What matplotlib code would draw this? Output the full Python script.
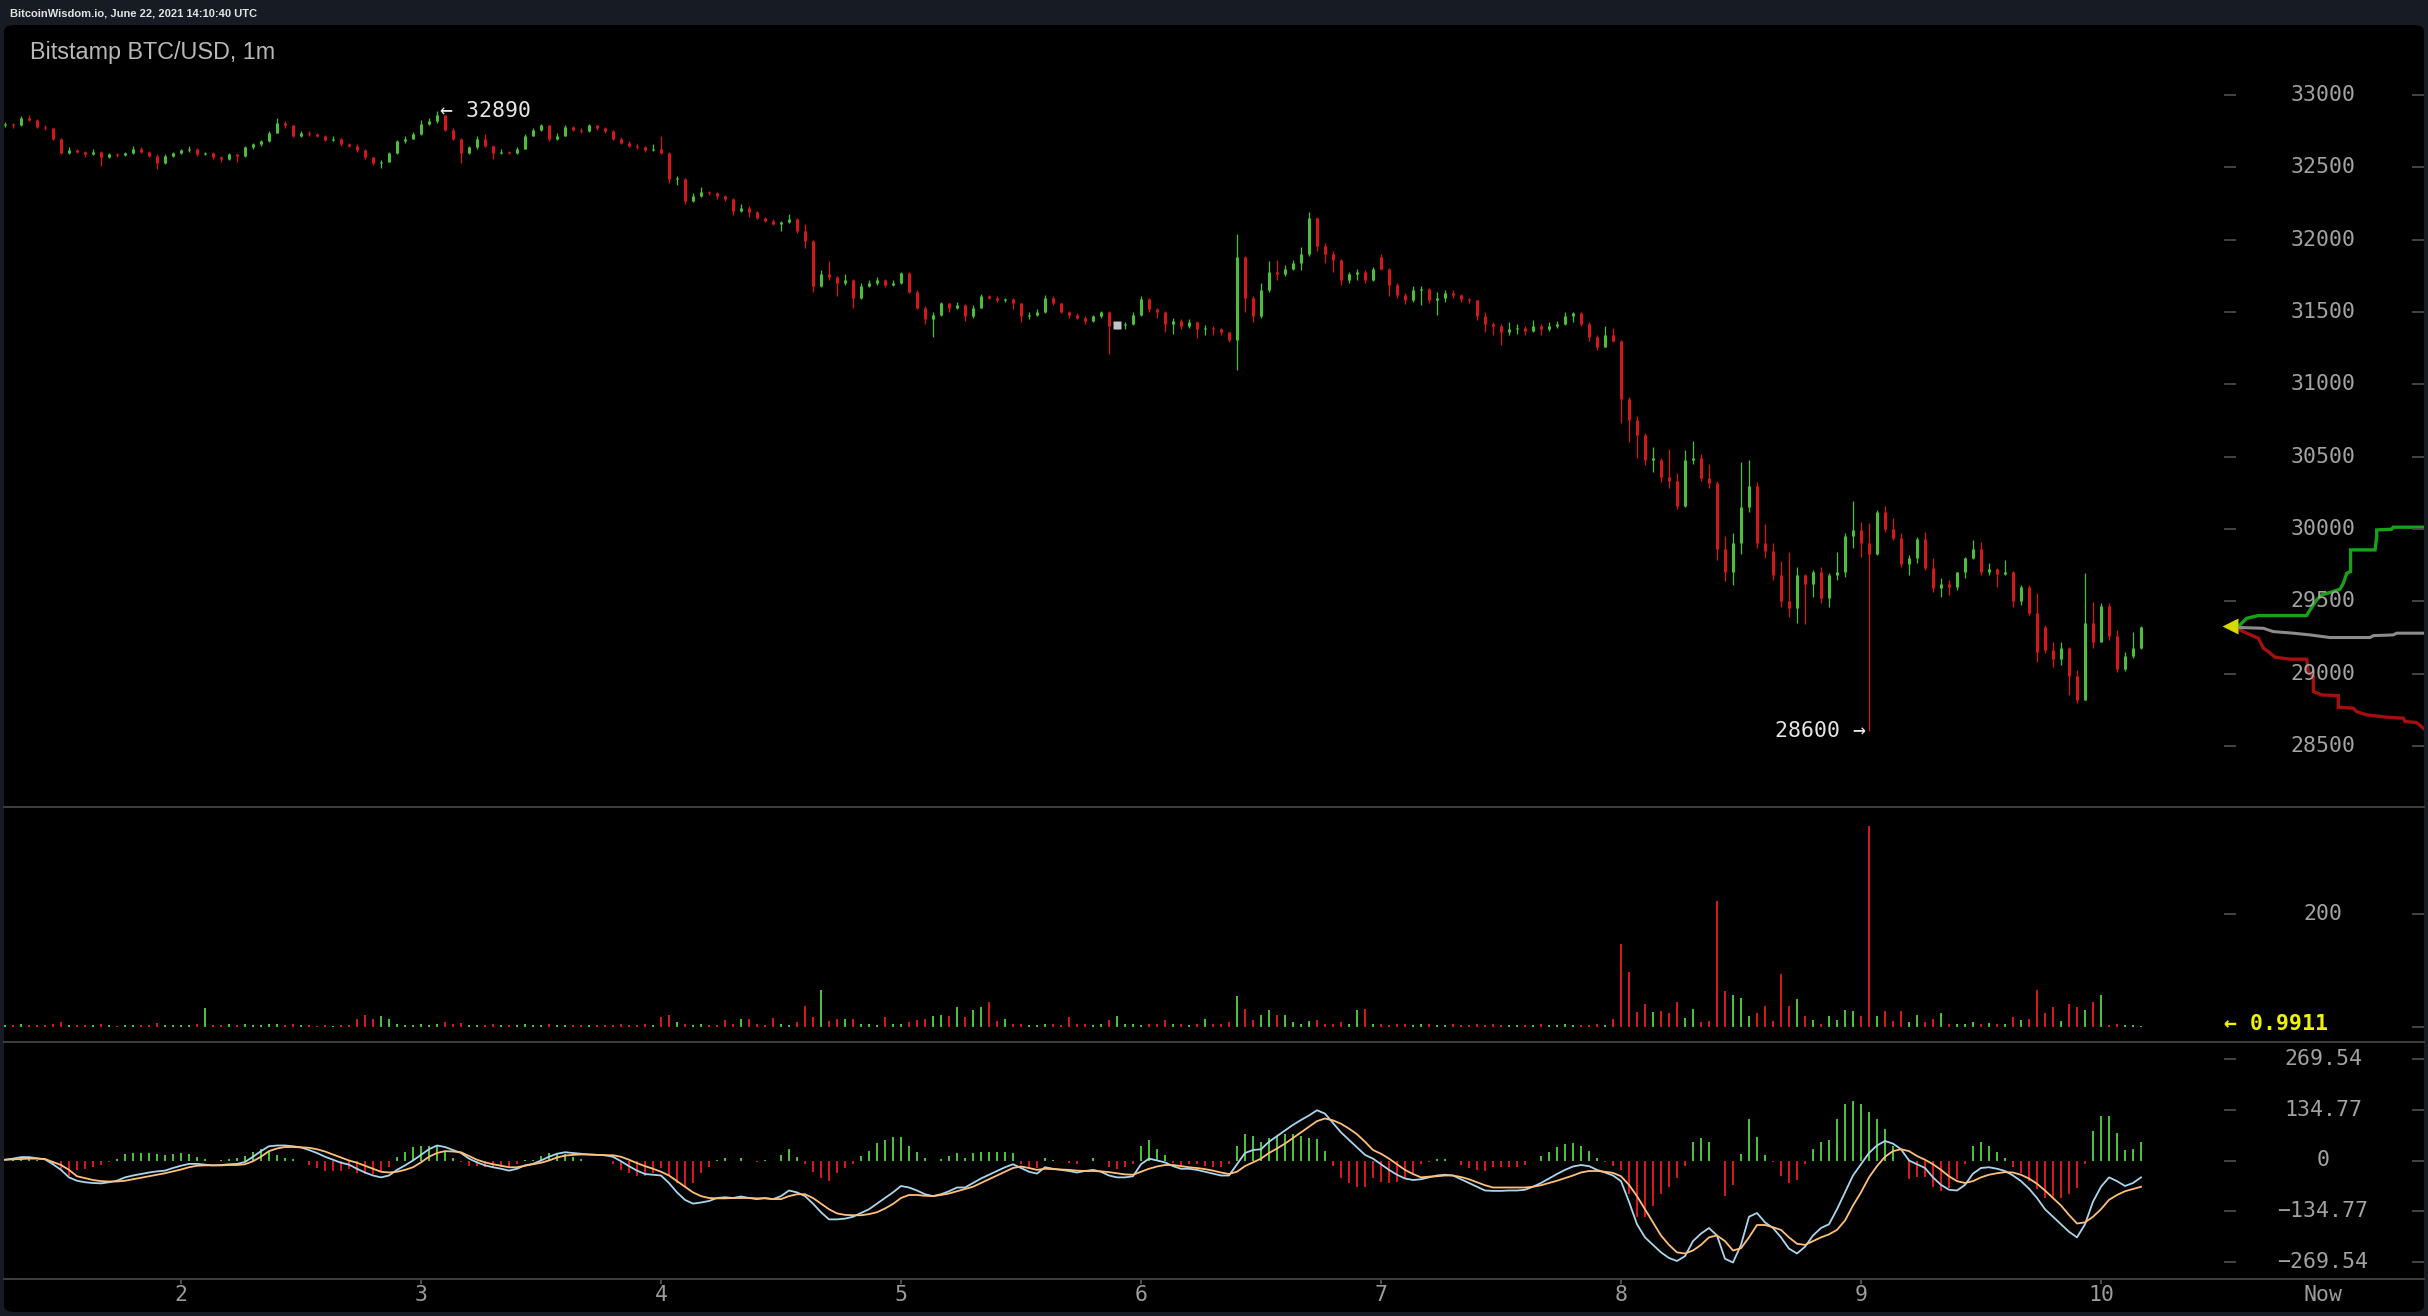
import matplotlib.pyplot as plt
from matplotlib.patches import FancyBboxPatch
import numpy as np

W, H = 2428, 1316

opens = [
    32790, 32800, 32790, 32840, 32830, 32780, 32770, 32700, 32600, 32620,
    32610, 32590, 32610, 32575, 32590, 32585, 32600, 32630, 32610, 32580,
    32530, 32580, 32600, 32620, 32630, 32590, 32600, 32570, 32560, 32590,
    32580, 32640, 32660, 32680, 32740, 32810, 32790, 32720, 32740, 32730,
    32720, 32690, 32700, 32660, 32650, 32620, 32570, 32530, 32540, 32600,
    32680, 32700, 32730, 32800, 32820, 32860, 32760, 32700, 32600, 32640,
    32700, 32650, 32600, 32610, 32600, 32630, 32720, 32760, 32790, 32700,
    32720, 32780, 32760, 32750, 32790, 32770, 32750, 32700, 32670, 32650,
    32640, 32620, 32630, 32600, 32420, 32420, 32270, 32300, 32330, 32320,
    32300, 32280, 32200, 32220, 32190, 32150, 32130, 32110, 32120, 32140,
    32060, 31990, 31680, 31760, 31740, 31700, 31720, 31600, 31680, 31700,
    31720, 31690, 31700, 31770, 31640, 31530, 31450, 31480, 31560, 31530,
    31550, 31470, 31530, 31610, 31600, 31580, 31590, 31560, 31470, 31480,
    31500, 31600, 31560, 31500, 31480, 31460, 31440, 31470, 31500, 31400,
    31410, 31420, 31480, 31590, 31520, 31500, 31420, 31440, 31400, 31430,
    31380, 31390, 31380, 31360, 31310, 31880, 31600, 31470, 31650, 31780,
    31760, 31800, 31840, 31900, 32150, 31960, 31900, 31860, 31720, 31760,
    31780, 31720, 31880, 31800, 31690, 31620, 31580, 31650, 31660, 31580,
    31600, 31630, 31620, 31590, 31580, 31470, 31420, 31400, 31360, 31380,
    31390, 31370, 31400, 31380, 31400, 31420, 31470, 31490, 31420, 31330,
    31260, 31340, 31300, 30900, 30750, 30650, 30480, 30480, 30360, 30330,
    30160, 30480, 30490, 30350, 30320, 29860, 29700, 29900, 30150, 30300,
    29900, 29850, 29680, 29500, 29450, 29680, 29620, 29700, 29520, 29680,
    29700, 29950, 29990, 29900, 29830, 30120, 30000, 29940, 29760, 29800,
    29930, 29730, 29590, 29620, 29600, 29700, 29800, 29860, 29700, 29720,
    29690, 29700, 29500, 29600, 29420, 29320, 29160, 29100, 29180, 28980,
    28820, 29350, 29220, 29470, 29260, 29030, 29120, 29180,
]
highs = [
    32815, 32810, 32855, 32860, 32835, 32795, 32775, 32705, 32640, 32630,
    32615, 32625, 32615, 32600, 32600, 32610, 32645, 32640, 32615, 32590,
    32590, 32610, 32630, 32645, 32635, 32610, 32605, 32580, 32600, 32595,
    32650, 32670, 32690, 32750, 32840, 32820, 32795, 32755, 32750, 32740,
    32725, 32720, 32705, 32670, 32660, 32625, 32575, 32550, 32610, 32690,
    32715, 32745, 32830, 32840, 32890, 32865, 32770, 32705, 32650, 32720,
    32730, 32655, 32625, 32615, 32640, 32730, 32770, 32800, 32795, 32735,
    32790, 32785, 32770, 32800, 32795, 32780, 32760, 32710, 32680, 32660,
    32650, 32660, 32720, 32610, 32440, 32425, 32320, 32365, 32340, 32330,
    32310, 32290, 32250, 32230, 32200, 32160, 32140, 32130, 32180, 32150,
    32110, 32000, 31790, 31850, 31750, 31760, 31730, 31700, 31720, 31740,
    31730, 31720, 31780, 31775, 31650, 31540, 31500, 31570, 31565, 31570,
    31555, 31550, 31625, 31620, 31610, 31600, 31595, 31565, 31500, 31520,
    31620, 31610, 31565, 31510, 31490, 31470, 31480, 31510, 31505, 31420,
    31430, 31500, 31610, 31595, 31530, 31505, 31460, 31450, 31450, 31440,
    31410, 31400, 31390, 31365, 32040, 31890, 31610, 31700, 31850, 31860,
    31825, 31860, 31950, 32195, 32160, 31975, 31920, 31870, 31780, 31800,
    31790, 31810, 31900, 31805, 31700, 31630, 31680, 31680, 31665, 31640,
    31650, 31650, 31625, 31600, 31585, 31500, 31430, 31420, 31430, 31420,
    31400, 31445, 31420, 31430, 31440, 31500, 31500, 31500, 31430, 31340,
    31400, 31390, 31310, 30910, 30780, 30660, 30570, 30490, 30550, 30385,
    30545, 30605, 30520, 30450, 30330, 29950, 29970, 30465, 30477, 30327,
    30035, 29900, 29780, 29843, 29740, 29690, 29716, 29740, 29694, 29843,
    29970, 30190, 30050, 30040, 30130, 30160, 30073, 29970, 29820, 29947,
    29980, 29797, 29659, 29647, 29705, 29808, 29924, 29912, 29763, 29730,
    29786, 29710, 29612, 29610, 29555, 29336, 29221, 29221, 29185, 29025,
    29693, 29497, 29486, 29486, 29302, 29152, 29290, 29330,
]
lows = [
    32780, 32775, 32785, 32820, 32770, 32760, 32690, 32590, 32595, 32600,
    32570, 32585, 32510, 32565, 32570, 32580, 32595, 32600, 32570, 32490,
    32525, 32575, 32595, 32610, 32580, 32585, 32560, 32540, 32550, 32540,
    32575, 32630, 32650, 32675, 32735, 32770, 32710, 32710, 32720, 32710,
    32680, 32685, 32645, 32640, 32610, 32560, 32520, 32495, 32535, 32595,
    32670, 32695, 32725, 32790, 32810, 32750, 32690, 32530, 32590, 32630,
    32640, 32560, 32590, 32590, 32595, 32625, 32715, 32750, 32680, 32690,
    32715, 32750, 32740, 32745, 32760, 32740, 32690, 32660, 32640, 32630,
    32610, 32615, 32590, 32390, 32380, 32250, 32260, 32295, 32310, 32280,
    32270, 32170, 32190, 32160, 32140, 32120, 32100, 32060, 32115, 32050,
    31940, 31640, 31670, 31720, 31610, 31690, 31530, 31590, 31670, 31690,
    31670, 31680, 31695, 31630, 31520, 31420, 31330, 31470, 31500, 31520,
    31440, 31460, 31525, 31590, 31570, 31570, 31520, 31430, 31450, 31470,
    31495, 31550, 31490, 31460, 31450, 31420, 31430, 31460, 31210, 31380,
    31380, 31410, 31475, 31500, 31460, 31360, 31350, 31380, 31390, 31320,
    31340, 31340, 31340, 31290, 31100, 31500, 31430, 31460, 31640, 31720,
    31750, 31790, 31790, 31890, 31920, 31840, 31780, 31690, 31700, 31720,
    31700, 31715, 31790, 31610, 31600, 31555, 31570, 31550, 31560, 31480,
    31570, 31600, 31570, 31560, 31445, 31365, 31340, 31270, 31340, 31350,
    31340, 31360, 31340, 31370, 31390, 31410, 31430, 31400, 31300, 31240,
    31255, 31290, 30730, 30600, 30490, 30440, 30395, 30327, 30280, 30140,
    30150, 30450, 30330, 30280, 29786, 29640, 29610, 29830, 30120, 29867,
    29797, 29647, 29463, 29394, 29348, 29340, 29530, 29487, 29463, 29647,
    29670, 29866, 29808, 28600, 29820, 29982, 29924, 29740, 29682, 29763,
    29716, 29567, 29532, 29543, 29578, 29659, 29790, 29682, 29682, 29601,
    29682, 29463, 29474, 29405, 29083, 29140, 29048, 29060, 28852, 28795,
    28815, 29175, 29215, 29232, 29013, 29020, 29110, 29170,
]
closes = [
    32800, 32790, 32840, 32830, 32780, 32770, 32700, 32600, 32620, 32610,
    32590, 32610, 32575, 32590, 32585, 32600, 32630, 32610, 32580, 32530,
    32580, 32600, 32620, 32630, 32590, 32600, 32570, 32560, 32590, 32580,
    32640, 32660, 32680, 32740, 32810, 32790, 32720, 32740, 32730, 32720,
    32690, 32700, 32660, 32650, 32620, 32570, 32530, 32540, 32600, 32680,
    32700, 32730, 32800, 32820, 32860, 32760, 32700, 32600, 32640, 32700,
    32650, 32600, 32610, 32600, 32630, 32720, 32760, 32790, 32700, 32720,
    32780, 32760, 32750, 32790, 32770, 32750, 32700, 32670, 32650, 32640,
    32620, 32630, 32600, 32420, 32420, 32270, 32300, 32330, 32320, 32300,
    32280, 32200, 32220, 32190, 32150, 32130, 32110, 32120, 32140, 32060,
    31990, 31680, 31760, 31740, 31700, 31720, 31600, 31680, 31700, 31720,
    31690, 31700, 31770, 31640, 31530, 31450, 31480, 31560, 31530, 31550,
    31470, 31530, 31610, 31600, 31580, 31590, 31560, 31470, 31480, 31500,
    31600, 31560, 31500, 31480, 31460, 31440, 31470, 31500, 31400, 31410,
    31420, 31480, 31590, 31520, 31500, 31420, 31440, 31400, 31430, 31380,
    31390, 31380, 31360, 31310, 31880, 31600, 31470, 31650, 31780, 31760,
    31800, 31840, 31900, 32150, 31960, 31900, 31860, 31720, 31760, 31780,
    31720, 31800, 31800, 31690, 31620, 31580, 31650, 31660, 31580, 31600,
    31630, 31620, 31590, 31580, 31470, 31420, 31400, 31360, 31380, 31390,
    31370, 31400, 31380, 31400, 31420, 31470, 31490, 31420, 31330, 31260,
    31340, 31300, 30900, 30750, 30650, 30480, 30480, 30360, 30330, 30160,
    30480, 30490, 30350, 30320, 29860, 29700, 29900, 30150, 30300, 29900,
    29850, 29680, 29500, 29450, 29680, 29620, 29700, 29520, 29680, 29700,
    29950, 29990, 29900, 29830, 30120, 30000, 29940, 29760, 29800, 29930,
    29730, 29590, 29620, 29600, 29700, 29800, 29860, 29700, 29720, 29690,
    29700, 29500, 29600, 29420, 29150, 29160, 29100, 29180, 28980, 28820,
    29350, 29220, 29470, 29260, 29030, 29120, 29180, 29320,
]
volumes = [
    4, 3, 5, 3, 4, 3, 6, 8, 4, 3,
    3, 4, 5, 3, 2, 3, 4, 3, 3, 7,
    4, 3, 3, 4, 5, 33, 4, 3, 5, 4,
    6, 4, 3, 5, 6, 4, 5, 3, 3, 2,
    3, 2, 3, 3, 15, 21, 15, 19, 14, 6,
    4, 3, 5, 4, 6, 8, 5, 7, 4, 3,
    4, 5, 3, 3, 4, 5, 3, 4, 6, 3,
    4, 3, 3, 4, 3, 4, 3, 5, 4, 3,
    5, 4, 17, 21, 8, 6, 4, 5, 3, 4,
    12, 5, 14, 14, 6, 4, 16, 5, 4, 8,
    38, 17, 66, 10, 14, 14, 14, 6, 5, 4,
    17, 5, 6, 8, 12, 14, 20, 22, 20, 36,
    18, 30, 36, 45, 10, 14, 6, 5, 4, 4,
    5, 6, 4, 17, 5, 6, 4, 5, 12, 19,
    6, 5, 4, 6, 5, 12, 6, 5, 4, 6,
    14, 5, 6, 8, 54, 31, 12, 22, 30, 21,
    22, 8, 6, 10, 12, 6, 5, 8, 5, 30,
    31, 6, 5, 4, 6, 5, 4, 6, 5, 4,
    3, 5, 4, 3, 6, 4, 5, 3, 4, 3,
    4, 3, 5, 4, 3, 5, 4, 3, 4, 5,
    4, 14, 146, 97, 26, 40, 26, 28, 24, 45,
    16, 31, 8, 10, 223, 63, 57, 52, 19, 24,
    37, 10, 94, 38, 50, 20, 12, 6, 19, 12,
    30, 28, 19, 355, 20, 28, 10, 28, 8, 22,
    8, 14, 24, 5, 6, 5, 8, 6, 7, 6,
    5, 17, 12, 14, 66, 24, 35, 10, 40, 35,
    30, 45, 57, 4, 5, 3, 4, 1,
]
macd_dif = [
    2, 5, 9, 9, 6, 3, -10, -25, -45, -54,
    -58, -60, -61, -58, -54, -45, -40, -36, -32, -29,
    -27, -20, -14, -9, -9, -11, -13, -12, -10, -9,
    -4, 10, 25, 38, 40, 40, 38, 35, 28, 20,
    10, 2, -6, -11, -22, -32, -40, -45, -40, -25,
    -13, 0, 15, 30, 40, 36, 28, 20, 5, -5,
    -13, -18, -22, -27, -22, -13, -9, 0, 10, 18,
    22, 20, 18, 16, 15, 14, 10, -2, -15, -27,
    -36, -38, -40, -60, -85, -105, -115, -112, -108, -100,
    -98, -100, -96, -100, -103, -100, -103, -95, -80, -85,
    -95, -115, -138, -157, -157, -155, -150, -140, -130, -115,
    -100, -85, -68, -72, -80, -90, -95, -90, -82, -72,
    -72, -60, -48, -38, -28, -18, -10, -20, -30, -35,
    -18, -22, -25, -28, -32, -28, -25, -30, -40, -45,
    -45, -42, -10, 5, 0, -5, -15, -22, -22, -25,
    -30, -35, -40, -40, -10, 20, 28, 30, 50, 65,
    80, 95, 108, 120, 134, 125, 100, 75, 55, 35,
    15, 5, -10, -25, -38, -48, -52, -50, -45, -40,
    -38, -40, -50, -60, -70, -80, -81, -81, -80, -80,
    -78, -70, -60, -48, -36, -25, -16, -12, -15, -25,
    -32, -40, -55, -110, -170, -205, -225, -245, -260, -268,
    -255, -215, -195, -180, -200, -262, -272, -225, -150, -140,
    -165, -180, -205, -235, -248, -230, -200, -180, -170, -130,
    -85, -40, -10, 20, 40, 52, 45, 30, 0, -10,
    -20, -45, -65, -78, -80, -65, -35, -20, -18, -22,
    -28, -40, -55, -75, -100, -130, -150, -170, -190, -205,
    -170, -110, -70, -45, -55, -68, -60, -45,
]
macd_dea = [
    2, 3, 4, 5, 5, 4, -4, -12, -25, -42,
    -47, -52, -55, -56, -56, -54, -50, -46, -42, -38,
    -34, -29, -24, -18, -14, -13, -13, -13, -12, -12,
    -10, -2, 10, 25, 32, 36, 36, 35, 34, 30,
    24, 16, 8, 0, -6, -14, -22, -30, -32, -30,
    -25, -18, -5, 10, 20, 25, 24, 22, 12, 2,
    -5, -10, -14, -18, -18, -14, -10, -6, 0, 8,
    13, 15, 16, 16, 15, 14, 14, 10, 2, -7,
    -15, -22, -30, -40, -55, -70, -85, -95, -100, -101,
    -101, -100, -100, -100, -101, -101, -103, -103, -95, -90,
    -90, -100, -115, -130, -141, -145, -146, -146, -143, -138,
    -128, -116, -100, -92, -92, -94, -95, -92, -88, -82,
    -76, -70, -60, -50, -40, -30, -20, -16, -20, -25,
    -22, -23, -24, -25, -27, -28, -28, -29, -31, -34,
    -37, -38, -30, -22, -16, -12, -12, -15, -18, -20,
    -23, -27, -32, -36, -30, -15, -5, 5, 20, 32,
    45, 60, 75, 90, 105, 112, 107, 98, 85, 70,
    50, 28, 18, 5, -10, -25, -36, -45, -43, -42,
    -40, -40, -44, -50, -58, -66, -72, -72, -72, -72,
    -72, -70, -66, -60, -54, -47, -40, -32, -28, -28,
    -30, -33, -42, -65, -95, -130, -165, -200, -225, -245,
    -248, -240, -225, -205, -200, -215, -240, -234, -205, -172,
    -172, -178, -185, -205, -222, -225, -215, -205, -197, -185,
    -160, -120, -85, -45, -15, 10, 25, 30, 25, 12,
    2, -10, -25, -42, -55, -60, -55, -45, -38, -34,
    -31, -32, -38, -48, -62, -80, -100, -120, -145, -168,
    -165, -150, -130, -105, -92, -82, -76, -70,
]

# market depth at the right edge (hours, price)
ask_x = [10.578, 10.606, 10.655, 10.856, 10.870, 10.898, 10.919, 10.953, 10.995, 11.009,
         11.023, 11.039, 11.039, 11.141, 11.148, 11.148, 11.210, 11.217, 11.342]
ask_y = [29336, 29382, 29401, 29401, 29440, 29509, 29544, 29560, 29583, 29624,
         29693, 29705, 29855, 29855, 29947, 29993, 29998, 30012, 30012]
bid_x = [10.578, 10.606, 10.655, 10.676, 10.696, 10.724, 10.787, 10.856, 10.863, 10.884,
         10.884, 10.919, 10.988, 10.988, 11.051, 11.064, 11.106, 11.190, 11.259, 11.266,
         11.314, 11.342]
bid_y = [29302, 29279, 29244, 29175, 29152, 29113, 29099, 29099, 29013, 28979,
         28875, 28852, 28847, 28767, 28760, 28737, 28714, 28698, 28691, 28668,
         28661, 28622]
mid_x = [10.578, 10.676, 10.717, 10.801, 10.870, 10.953, 11.120, 11.134, 11.217, 11.231, 11.345]
mid_y = [29318, 29313, 29290, 29279, 29267, 29249, 29249, 29262, 29267, 29279, 29279]

price_ticks = [33000, 32500, 32000, 31500, 31000, 30500, 30000, 29500, 29000, 28500]
volume_ticks = [200]
macd_ticks = [269.54, 134.77, 0, -134.77, -269.54]
macd_labels = ["269.54", "134.77", "0", "\u2212134.77", "\u2212269.54"]
hour_ticks = [2, 3, 4, 5, 6, 7, 8, 9, 10]

high_mark = 32890
low_mark = 28600
last_price = 29330
last_volume = 0.9911

GREEN = "#4cbf3a"
RED = "#d6161b"
GREY = "#a2a2a2"
MONO = "DejaVu Sans Mono"

X_LEFT, X_RIGHT = 1.2617, 11.345
LABEL_X = 10.924
START = 1.2658  # hour of the first bar


def panel(fig, top, bottom):
    ax = fig.add_axes([4 / W, 1 - bottom / H, 2420 / W, (bottom - top) / H])
    ax.set_facecolor("none")
    ax.set_xlim(X_LEFT, X_RIGHT)
    ax.axis("off")
    return ax


def right_ticks(ax, ticks, labels):
    ax.hlines(ticks, 10.512, 10.562, color="#4a4a4a", lw=1.3)
    ax.hlines(ticks, 11.297, 11.345, color="#4a4a4a", lw=1.3)
    for t, lab in zip(ticks, labels):
        ax.text(LABEL_X, t, lab, ha="center", va="center", color=GREY,
                fontsize=15.5, family=MONO)


fig = plt.figure(figsize=(W / 100, H / 100), dpi=100, facecolor="#161b24")
fig.add_artist(FancyBboxPatch((4 / W, 1 - 1312 / H), 2420 / W, 1287 / H,
                              boxstyle="round,pad=0,rounding_size=0.0045",
                              transform=fig.transFigure, facecolor="black",
                              edgecolor="none", zorder=-10))

x = START + np.arange(len(closes)) / 30
o = np.array(opens)
c = np.array(closes)
colors = [GREEN if cc >= oo else RED for oo, cc in zip(opens, closes)]

# price panel
ax = panel(fig, 25, 807)
ax.set_ylim(28077, 33485)
ax.vlines(x, lows, highs, colors=colors, lw=0.9)
body_lo = np.minimum(o, c)
body_hi = np.maximum(np.maximum(o, c), body_lo + 8)
ax.vlines(x, body_lo, body_hi, colors=colors, lw=2.2)
ax.plot(x[139], 31410, marker="s", ms=6, color="#c4c4c4", mec="none")
ax.text(x[54] + 0.012, high_mark, "\u2190 32890", ha="left", va="center",
        color="#e6e6e6", fontsize=15.5, family=MONO)
ax.text(x[233] - 0.012, low_mark, "28600 \u2192", ha="right", va="center",
        color="#e6e6e6", fontsize=15.5, family=MONO)
ax.plot(ask_x, ask_y, color="#17a317", lw=2.4, solid_joinstyle="miter")
ax.plot(bid_x, bid_y, color="#a31010", lw=2.4, solid_joinstyle="miter")
ax.plot(mid_x, mid_y, color="#8c8c8c", lw=2.2)
ax.plot(10.538, last_price, marker="<", ms=11, color="#d8d800", mec="none")
right_ticks(ax, price_ticks, [str(t) for t in price_ticks])

# volume panel
axv = panel(fig, 807, 1042)
axv.set_ylim(-26.5, 389)
axv.bar(x, volumes, width=0.011, color=colors)
right_ticks(axv, volume_ticks, [str(t) for t in volume_ticks])
axv.hlines([0], 11.297, 11.345, color="#4a4a4a", lw=1.3)
axv.text(10.512, 5, "\u2190 %.4f" % last_volume, ha="left", va="center",
         color="#f2f200", fontsize=15.5, family=MONO, fontweight="bold")

# MACD panel
axm = panel(fig, 1042, 1279)
axm.set_ylim(-316, 316)
hist = 2 * (np.array(macd_dif) - np.array(macd_dea))
axm.bar(x, hist, width=0.011, color=[GREEN if h >= 0 else RED for h in hist])
axm.plot(x, macd_dif, color="#a9d6ee", lw=1.3, zorder=3)
axm.plot(x, macd_dea, color="#ffbf78", lw=1.3, zorder=3)
right_ticks(axm, macd_ticks, macd_labels)

# time axis
axx = panel(fig, 1279, 1312)
axx.set_ylim(33, 0)
axx.vlines(hour_ticks, 0, 5, color="#5a5a5a", lw=1.2)
for h in hour_ticks:
    axx.text(h, 16, str(h), ha="center", va="center", color="#9c9c9c",
             fontsize=15.5, family=MONO)
axx.text(LABEL_X, 16, "Now", ha="center", va="center", color="#9c9c9c",
         fontsize=15.5, family=MONO)

for yy in (807, 1042, 1279):
    fig.add_artist(plt.Line2D([4 / W, 2424 / W], [1 - yy / H] * 2,
                              color="#3c3c3c", lw=1.5))

fig.text(10 / W, 1 - 13 / H, "BitcoinWisdom.io, June 22, 2021 14:10:40 UTC",
         ha="left", va="center", color="#e2e2e2", fontsize=8.0,
         family="Liberation Sans", fontweight="bold")
fig.text(30 / W, 1 - 52 / H, "Bitstamp BTC/USD, 1m", ha="left", va="center",
         color="#b8b8b8", fontsize=16.8, family="Liberation Sans")

fig.savefig("out.png", dpi=100, facecolor=fig.get_facecolor())
